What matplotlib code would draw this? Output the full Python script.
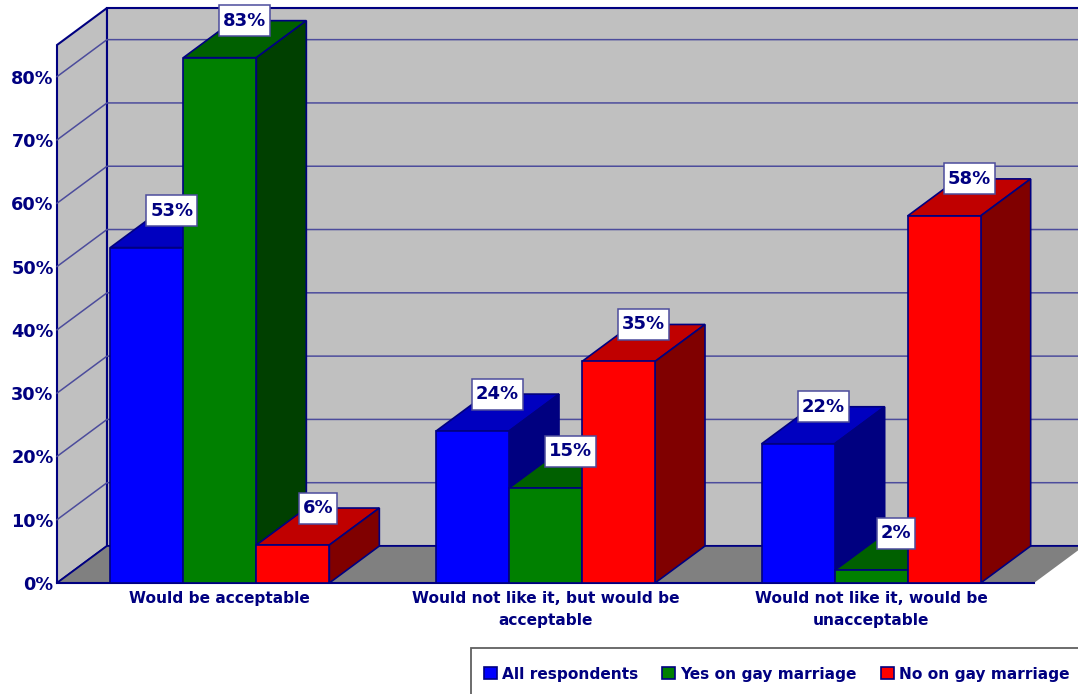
import matplotlib
matplotlib.use('Agg')
import matplotlib.pyplot as plt
from matplotlib.patches import Patch, Rectangle
from matplotlib.path import Path

categories = ['Would be acceptable',
              'Would not like it, but would be\nacceptable',
              'Would not like it, would be\nunacceptable']
series_names = ['All respondents', 'Yes on gay marriage', 'No on gay marriage']
all_respondents = [53, 24, 22]
yes_marriage = [83, 15, 2]
no_marriage = [6, 35, 58]
yticks = [0, 10, 20, 30, 40, 50, 60, 70, 80]

front_colors = ['#0000FF', '#008000', '#FF0000']
top_colors = ['#0000C0', '#006000', '#C00000']
side_colors = ['#000080', '#004000', '#800000']
navy = '#000080'
grid_col = '#4C4C9C'
W, H = 1078, 694
plot_w = 977


# white label box: fixed 31px tall, 4px padding left and right of the text
def label_box(x0, y0, width, height, mutation_size):
    cy = y0 + height / 2
    xa, xb = x0 - 4, x0 + width + 4
    ya, yb = cy - 15.5, cy + 15.5
    return Path([(xa, ya), (xb, ya), (xb, yb), (xa, yb), (xa, ya)], closed=True)


fig = plt.figure(figsize=(W / 100, H / 100), dpi=100)
fig.patch.set_facecolor('white')
ax = fig.add_axes([57 / W, 1 - 583 / H, plot_w / W, 538 / H])
ax.set_xlim(-0.5, 2.5)
ax.set_ylim(0, 85)
ax.patch.set_visible(False)
for s in ax.spines.values():
    s.set_visible(False)

# depth of the fake 3d box, 50px across and 37px up
dx = 50 / (plot_w / 3)
dy = 37 / (538 / 85)
x0, x1, top = -0.5, 2.5, 85

# walls and floor
ax.fill([x0, x0 + dx, x0 + dx, x0], [0, dy, top + dy, top], fc='#C0C0C0', ec=navy, lw=1.5, clip_on=False, zorder=1)
ax.fill([x0 + dx, x1 + dx, x1 + dx, x0 + dx], [dy, dy, top + dy, top + dy], fc='#C0C0C0', ec=navy, lw=1.5, clip_on=False, zorder=1)
ax.fill([x0, x1, x1 + dx, x0 + dx], [0, 0, dy, dy], fc='#808080', ec='none', clip_on=False, zorder=1)
ax.plot([x0, x1], [0, 0], color=navy, lw=1.5, clip_on=False, zorder=2)
ax.plot([x0, x0 + dx, x1 + dx], [0, dy, dy], color=navy, lw=1.2, clip_on=False, zorder=2)

for t in yticks[1:]:
    ax.plot([x0, x0 + dx, x1 + dx], [t, t + dy, t + dy], color=grid_col, lw=1.1, clip_on=False, zorder=2)

# bars, left to right so that later ones cover earlier side faces
width = 73 / (plot_w / 3)
z = 3
for i in range(len(categories)):
    vals = [all_respondents[i], yes_marriage[i], no_marriage[i]]
    for j, v in enumerate(vals):
        left = i + (j - 1.5) * width
        right = left + width
        ax.fill([left, right, right + dx, left + dx], [v, v, v + dy, v + dy],
                fc=top_colors[j], ec=navy, lw=1.2, clip_on=False, zorder=z)
        ax.fill([right, right + dx, right + dx, right], [0, dy, v + dy, v],
                fc=side_colors[j], ec=navy, lw=1.2, clip_on=False, zorder=z)
        ax.bar(left, v, width=width, align='edge', color=front_colors[j], edgecolor=navy, lw=1.2,
               clip_on=False, zorder=z + 0.5)
        z += 1

for i in range(len(categories)):
    vals = [all_respondents[i], yes_marriage[i], no_marriage[i]]
    for j, v in enumerate(vals):
        ax.text(i + (j - 1) * width + dx / 2, v + dy, f'{v}%', ha='center', va='center',
                color=navy, fontsize=13, fontweight='bold', zorder=100,
                bbox=dict(boxstyle=label_box, fc='white', ec=grid_col, lw=1.1))

ax.set_xticks(range(len(categories)))
ax.set_xticklabels(categories, fontsize=11.1, fontweight='bold', color=navy, linespacing=1.55)
ax.set_yticks(yticks)
ax.set_yticklabels([f'{t}%' for t in yticks], fontsize=12.7, fontweight='bold', color=navy)
ax.tick_params(axis='both', length=0)
ax.tick_params(axis='x', pad=6)
ax.tick_params(axis='y', pad=2.5)

# legend frame runs off the right and bottom edges
fig.add_artist(Rectangle((471 / W, -0.02), 0.6, 1 - 648 / H + 0.02, transform=fig.transFigure,
                         fc='white', ec='#606060', lw=1.3))
handles = [Patch(fc=c, ec=navy, lw=1.2) for c in front_colors]
leg = fig.legend(handles, series_names, ncol=3, loc='center left', bbox_to_anchor=(484 / W, 1 - 674 / H),
                 frameon=False, prop=dict(size=11.1, weight='bold'), labelcolor=navy,
                 handlelength=0.85, handleheight=0.85, handletextpad=0.33, columnspacing=1.55,
                 borderpad=0, borderaxespad=0)

fig.savefig('out.png', dpi=100)
